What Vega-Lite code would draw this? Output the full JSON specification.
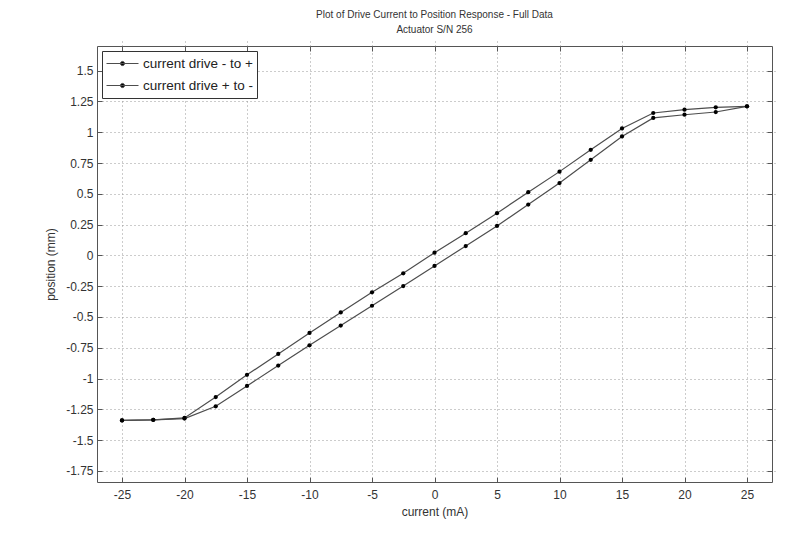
{
  "$schema": "https://vega.github.io/schema/vega-lite/v6.json",
  "width": 675,
  "height": 436,
  "autosize": {"type": "none"},
  "padding": {"left": 97, "top": 46, "right": 26, "bottom": 54},
  "background": "white",
  "title": {
    "text": ["Plot of Drive Current to Position Response - Full Data", "Actuator S/N 256"],
    "fontSize": 10,
    "fontWeight": "normal",
    "font": "Liberation Sans",
    "color": "#333",
    "anchor": "middle",
    "offset": 11,
    "lineHeight": 15
  },
  "config": {
    "font": "Liberation Sans",
    "view": {"stroke": "#555", "strokeWidth": 1},
    "axis": {
      "domain": false,
      "offset": -5,
      "tickColor": "#555",
      "tickSize": 5,
      "labelFontSize": 12,
      "labelColor": "#333",
      "titleFontSize": 12,
      "titleFontWeight": "normal",
      "titleColor": "#333",
      "gridColor": "#999",
      "gridDash": [1, 3],
      "gridWidth": 1
    },
    "legend": {
      "title": null,
      "orient": "top-left",
      "offset": 5,
      "padding": 4,
      "strokeColor": "#333",
      "fillColor": "white",
      "labelFontSize": 13.5,
      "labelColor": "#222",
      "symbolType": "M-1,0L1,0M-0.13,0A0.13,0.13,0,1,0,0.13,0A0.13,0.13,0,1,0,-0.13,0Z",
      "symbolSize": 1024,
      "symbolStrokeWidth": 1,
      "symbolFillColor": "black",
      "rowPadding": 5,
      "labelOffset": 4,
      "clipHeight": 17
    }
  },
  "data": {
    "values": [
      {"current": -25, "position": -1.34, "series": "current drive - to +"},
      {"current": -22.5, "position": -1.335, "series": "current drive - to +"},
      {"current": -20, "position": -1.325, "series": "current drive - to +"},
      {"current": -17.5, "position": -1.225, "series": "current drive - to +"},
      {"current": -15, "position": -1.06, "series": "current drive - to +"},
      {"current": -12.5, "position": -0.895, "series": "current drive - to +"},
      {"current": -10, "position": -0.73, "series": "current drive - to +"},
      {"current": -7.5, "position": -0.57, "series": "current drive - to +"},
      {"current": -5, "position": -0.409, "series": "current drive - to +"},
      {"current": -2.5, "position": -0.249, "series": "current drive - to +"},
      {"current": 0, "position": -0.086, "series": "current drive - to +"},
      {"current": 2.5, "position": 0.076, "series": "current drive - to +"},
      {"current": 5, "position": 0.239, "series": "current drive - to +"},
      {"current": 7.5, "position": 0.413, "series": "current drive - to +"},
      {"current": 10, "position": 0.587, "series": "current drive - to +"},
      {"current": 12.5, "position": 0.776, "series": "current drive - to +"},
      {"current": 15, "position": 0.966, "series": "current drive - to +"},
      {"current": 17.5, "position": 1.116, "series": "current drive - to +"},
      {"current": 20, "position": 1.142, "series": "current drive - to +"},
      {"current": 22.5, "position": 1.164, "series": "current drive - to +"},
      {"current": 25, "position": 1.21, "series": "current drive - to +"},
      {"current": -25, "position": -1.34, "series": "current drive + to -"},
      {"current": -22.5, "position": -1.336, "series": "current drive + to -"},
      {"current": -20, "position": -1.32, "series": "current drive + to -"},
      {"current": -17.5, "position": -1.15, "series": "current drive + to -"},
      {"current": -15, "position": -0.97, "series": "current drive + to -"},
      {"current": -12.5, "position": -0.8, "series": "current drive + to -"},
      {"current": -10, "position": -0.63, "series": "current drive + to -"},
      {"current": -7.5, "position": -0.463, "series": "current drive + to -"},
      {"current": -5, "position": -0.3, "series": "current drive + to -"},
      {"current": -2.5, "position": -0.146, "series": "current drive + to -"},
      {"current": 0, "position": 0.022, "series": "current drive + to -"},
      {"current": 2.5, "position": 0.18, "series": "current drive + to -"},
      {"current": 5, "position": 0.343, "series": "current drive + to -"},
      {"current": 7.5, "position": 0.513, "series": "current drive + to -"},
      {"current": 10, "position": 0.68, "series": "current drive + to -"},
      {"current": 12.5, "position": 0.857, "series": "current drive + to -"},
      {"current": 15, "position": 1.031, "series": "current drive + to -"},
      {"current": 17.5, "position": 1.156, "series": "current drive + to -"},
      {"current": 20, "position": 1.183, "series": "current drive + to -"},
      {"current": 22.5, "position": 1.202, "series": "current drive + to -"},
      {"current": 25, "position": 1.21, "series": "current drive + to -"}
    ]
  },
  "layer": [
    {
      "mark": {"type": "line", "strokeWidth": 1.2},
      "encoding": {
        "x": {
          "field": "current",
          "type": "quantitative",
          "scale": {"domain": [-27, 27], "nice": false, "zero": false},
          "axis": {
            "orient": "bottom",
            "values": [-25, -20, -15, -10, -5, 0, 5, 10, 15, 20, 25],
            "labelExpr": "'' + datum.value",
            "labelPadding": 7,
            "title": "current (mA)",
            "titlePadding": 6,
            "grid": true
          }
        },
        "y": {
          "field": "position",
          "type": "quantitative",
          "scale": {"domain": [-1.84, 1.7], "nice": false, "zero": false},
          "axis": {
            "orient": "left",
            "values": [-1.75, -1.5, -1.25, -1, -0.75, -0.5, -0.25, 0, 0.25, 0.5, 0.75, 1, 1.25, 1.5],
            "labelExpr": "'' + datum.value",
            "labelPadding": 4,
            "title": "position (mm)",
            "titlePadding": 8,
            "grid": true
          }
        },
        "color": {
          "field": "series",
          "type": "nominal",
          "scale": {"domain": ["current drive - to +", "current drive + to -"], "range": ["#4d4d4d", "#4d4d4d"]},
          "legend": {"title": null}
        }
      }
    },
    {
      "mark": {"type": "point", "filled": true, "size": 18, "color": "black", "opacity": 1},
      "encoding": {
        "x": {
          "field": "current",
          "type": "quantitative",
          "axis": {
            "orient": "top",
            "values": [-25, -20, -15, -10, -5, 0, 5, 10, 15, 20, 25],
            "labels": false,
            "title": null,
            "grid": false
          }
        },
        "y": {
          "field": "position",
          "type": "quantitative",
          "axis": {
            "orient": "right",
            "values": [-1.75, -1.5, -1.25, -1, -0.75, -0.5, -0.25, 0, 0.25, 0.5, 0.75, 1, 1.25, 1.5],
            "labels": false,
            "title": null,
            "grid": false
          }
        },
        "detail": {"field": "series", "type": "nominal"}
      }
    }
  ],
  "resolve": {"axis": {"x": "independent", "y": "independent"}}
}
